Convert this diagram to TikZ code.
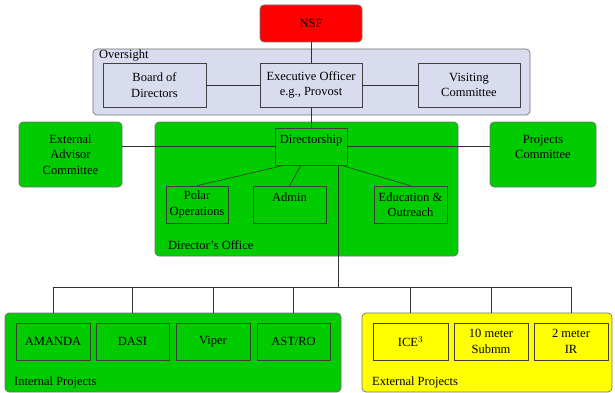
\documentclass[tikz,border=0pt]{standalone}
\usepackage{fontspec}
\setmainfont{Liberation Serif}
\usetikzlibrary{positioning}

\definecolor{nsfred}{RGB}{255,0,0}
\definecolor{boardlav}{RGB}{216,220,238}
\definecolor{officegreen}{RGB}{0,204,0}
\definecolor{extyellow}{RGB}{255,255,0}

\tikzset{
  group/.style={draw=black!55, rounded corners=4pt, line width=0.7pt, align=center},
  unit/.style={draw=black!75, line width=0.6pt, align=center, inner sep=1pt},
  grouplabel/.style={anchor=west, inner sep=0pt},
  link/.style={draw=black!80, line width=0.6pt},
}

\begin{document}
\begin{tikzpicture}[x=1pt, y=-1pt, font=\fontsize{12.5}{15.5}\selectfont]

      \useasboundingbox (0,0) rectangle (615,393);

      % Define nodes
	  \node[group, fill=nsfred, minimum width=102, minimum height=37]       (nsf) at (311,23.5) {NSF};
	  \node[group, fill=boardlav, minimum width=437, minimum height=66]     (oversight) at (311.5,82) {};
	  \node[grouplabel]                                                     (oversight-label) at (99,56) {Oversight};
	  \node[unit, fill=boardlav, minimum width=103, minimum height=44]      (board) at (154.5,85) {Board of\\Directors};
	  \node[unit, fill=boardlav, minimum width=102, minimum height=44]      (exec) at (311,85) {Executive Officer\\e.g., Provost};
	  \node[unit, fill=boardlav, minimum width=102, minimum height=44]      (visiting) at (469,85) {Visiting\\Committee};

	  \node[group, fill=officegreen, minimum width=103, minimum height=65]  (advisor) at (70.5,154.5) {External\\Advisor\\Committee};
	  \node[group, fill=officegreen, minimum width=303, minimum height=134] (office) at (306.5,189) {};
	  \node[group, fill=officegreen, minimum width=106, minimum height=65]  (projcom) at (543,154.5) {Projects\\Committee\\~};
	  \node[unit, fill=officegreen, minimum width=72, minimum height=37]    (directorship) at (311,146.5) {Directorship\\~};
	  \node[unit, fill=officegreen, minimum width=62, minimum height=37]    (polar) at (197,204.5) {Polar\\Operations};
	  \node[unit, fill=officegreen, minimum width=73, minimum height=37]    (admin) at (289.5,204.5) {Admin\\~};
	  \node[unit, fill=officegreen, minimum width=73, minimum height=37]    (education) at (410.5,204.5) {Education \&\\Outreach};
	  \node[grouplabel]                                                     (office-label) at (168,245) {Director's Office};

	  \node[group, fill=officegreen, minimum width=336, minimum height=79]  (internal) at (173,352.5) {};
	  \node[unit, fill=officegreen, minimum width=74, minimum height=37]    (amanda) at (53,341.5) {AMANDA};
	  \node[unit, fill=officegreen, minimum width=73, minimum height=37]    (dasi) at (132.5,341.5) {DASI};
	  \node[unit, fill=officegreen, minimum width=74, minimum height=37]    (viper) at (213,341.5) {Viper};
	  \node[unit, fill=officegreen, minimum width=73, minimum height=37]    (astro) at (293.5,341.5) {AST/RO};
	  \node[grouplabel]                                                     (internal-label) at (14,382) {Internal Projects};

	  \node[group, fill=extyellow, minimum width=250, minimum height=79]    (external) at (487,352.5) {};
	  \node[unit, fill=extyellow, minimum width=75, minimum height=37]      (ice) at (410.5,341.5) {ICE$^3$};
	  \node[unit, fill=extyellow, minimum width=74, minimum height=37]      (submm) at (491,341.5) {10 meter\\Submm};
	  \node[unit, fill=extyellow, minimum width=74, minimum height=37]      (ir) at (571,341.5) {2 meter\\IR};
	  \node[grouplabel]                                                     (external-label) at (372,382) {External Projects};

	  \coordinate (bus) at (337,287);

	  % Connect the nodes
	  \draw[link] (nsf) -- (exec);
	  \draw[link] (board) -- (exec);
	  \draw[link] (exec) -- (visiting);
	  \draw[link] (exec) -- (directorship);
	  \draw[link] (directorship.west) -- (directorship.west -| advisor.east);
	  \draw[link] (directorship.east) -- (directorship.east -| projcom.west);
	  \draw[link] (directorship.215) -- (polar.north);
	  \draw[link] (directorship.242) -- (admin.north);
	  \draw[link] (directorship.328) -- (education.north);
	  \draw[link] (directorship.325) -- (directorship.325 |- bus);

	  % Projects bus
	  \draw[link] (amanda.north |- bus) -- (ir.north |- bus);
	  \foreach \p in {amanda,dasi,viper,astro}
	    \draw[link] (\p.north |- bus) -- (\p.north |- internal.north);
	  \foreach \p in {ice,submm,ir}
	    \draw[link] (\p.north |- bus) -- (\p.north |- external.north);

	\end{tikzpicture}
\end{document}
